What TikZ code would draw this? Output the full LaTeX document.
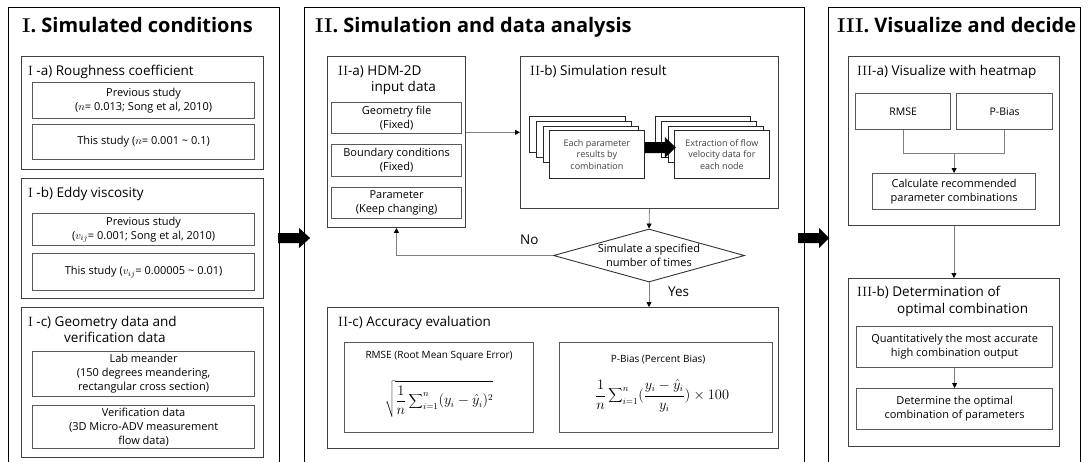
\documentclass[tikz,border=0pt]{standalone}
\usepackage{fontspec}
\setsansfont{Open Sans}
\usetikzlibrary{arrows.meta,calc,shapes.geometric}
\newcommand\rn[1]{{\rmfamily#1}}
\newcommand\fsz[2]{\fontsize{#1}{#2}\selectfont}

\tikzset{
  panel/.style={draw=black, line width=1.1pt, anchor=north west, inner sep=0pt},
  group/.style={draw=black!75, line width=0.9pt, anchor=north west, inner sep=0pt},
  item/.style={draw=black!65, line width=1.2pt, anchor=north west, inner sep=0pt,
    align=center, font=\sffamily\fsz{11}{14}},
  ptitle/.style={anchor=base west, inner sep=0pt, font=\sffamily\bfseries\fsz{20}{24}},
  lbl/.style={anchor=base west, inner sep=0pt, font=\sffamily\fsz{13.5}{16}},
  sheet/.style={draw=black!85, line width=0.8pt, fill=white, anchor=north west,
    inner sep=0pt, align=center, font=\sffamily\fsz{9}{11.5}, text=black!75},
  conn/.style={draw=black!50, line width=0.8pt,
    -{Triangle[length=5pt,width=5pt,color=black]}},
  link/.style={draw=black!50, line width=0.8pt},
  blockarrow/.style={fill=black, draw=none},
  decision/.style={diamond, draw=black!80, line width=0.9pt, inner sep=0pt,
    minimum width=191pt, minimum height=53pt},
  dectext/.style={inner sep=0pt, align=center, font=\sffamily\fsz{11}{14}},
  formula/.style={inner sep=0pt, font=\fsz{13.5}{16}},
  boxhead/.style={anchor=base, inner sep=0pt, font=\sffamily\fsz{10}{12}},
}

\begin{document}
\begin{tikzpicture}[x=1pt,y=-1pt]
\useasboundingbox (0,0) rectangle (1089,461);
\fill[white] (0,0) rectangle (1089,461);
\clip (0,0) rectangle (1089,461);

% ---------------- Panel I ----------------
\node[panel, minimum width=271pt, minimum height=480pt] (pI) at (8,7) {};
\node[ptitle] (hI) at (22,32) {\rn{I}. Simulated conditions};

\node[group, minimum width=242pt, minimum height=113pt] (gIa) at (21,56) {};
\node[lbl] (tIa) at (28,75) {\rn{I} -a) Roughness coefficient};
\node[item, minimum width=222pt, minimum height=36pt] (prevN) at (32,82)
  {Previous study\\($n$= 0.013; Song et al, 2010)};
\node[item, minimum width=222pt, minimum height=35pt] (thisN) at (32,124)
  {This study ($n$= 0.001 \textasciitilde{} 0.1)};

\node[group, minimum width=242pt, minimum height=120pt] (gIb) at (21,178) {};
\node[lbl] (tIb) at (28,197) {\rn{I} -b) Eddy viscosity};
\node[item, minimum width=222pt, minimum height=32pt] (prevV) at (32,213)
  {Previous study\\($v_{ij}$= 0.001; Song et al, 2010)};
\node[item, minimum width=222pt, minimum height=37pt] (thisV) at (32,253)
  {This study ($v_{ij}$= 0.00005 \textasciitilde{} 0.01)};

\node[group, minimum width=242pt, minimum height=150pt] (gIc) at (21,307) {};
\node[lbl] (tIc) at (28,326) {\rn{I} -c) Geometry data and};
\node[lbl] (tIc2) at (64,342) {verification data};
\node[item, minimum width=222pt, minimum height=45pt] (lab) at (32,351)
  {Lab meander\\(150 degrees meandering,\\rectangular cross section)};
\node[item, minimum width=222pt, minimum height=43pt] (verif) at (32,405)
  {Verification data\\(3D Micro-ADV measurement\\flow data)};

% ---------------- Panel II ----------------
\node[panel, minimum width=500pt, minimum height=480pt] (pII) at (304,7) {};
\node[ptitle] (hII) at (315,32) {\rn{II}. Simulation and data analysis};

\node[group, minimum width=138pt, minimum height=171pt] (gIIa) at (327,56) {};
\node[lbl] (tIIa) at (338,75) {\rn{II}-a) HDM-2D};
\node[lbl] (tIIa2) at (371,91) {input data};
\node[item, minimum width=130pt, minimum height=31pt] (geom) at (331,102)
  {Geometry file\\(Fixed)};
\node[item, minimum width=130pt, minimum height=32pt] (bound) at (331,144)
  {Boundary conditions\\(Fixed)};
\node[item, minimum width=130pt, minimum height=31pt] (param) at (331,187)
  {Parameter\\(Keep changing)};

\node[group, minimum width=258pt, minimum height=152pt] (gIIb) at (520,56) {};
\node[lbl] (tIIb) at (530,75) {\rn{II}-b) Simulation result};

% stacked result sheets
\node[sheet, minimum width=96pt, minimum height=36pt] (r0) at (529,116) {};
\node[sheet, minimum width=95pt, minimum height=36pt] (r1) at (536,121) {};
\node[sheet, minimum width=95pt, minimum height=36pt] (r2) at (543,126) {};
\node[sheet, minimum width=95pt, minimum height=48pt] (res) at (549,130)
  {Each parameter\\results by\\combination};

\node[sheet, minimum width=95pt, minimum height=36pt] (e0) at (655,116) {};
\node[sheet, minimum width=95pt, minimum height=36pt] (e1) at (661,121) {};
\node[sheet, minimum width=95pt, minimum height=36pt] (e2) at (668,126) {};
\node[sheet, minimum width=95pt, minimum height=48pt] (ext) at (674,130)
  {Extraction of flow\\velocity data for\\each node};

\fill[blockarrow] ($(res.north east)+(0,12)$) -- ++(20,0) -- ++(0,-5) -- ++(11,10.5)
  -- ++(-11,10.5) -- ++(0,-5) -- ++(-20,0) -- cycle;

\node[decision] (dec) at (649,255.5) {};
\node[dectext] (decT) at (dec.center) {Simulate a specified\\number of times};

\node[group, minimum width=451pt, minimum height=141pt] (gIIc) at (327,307) {};
\node[lbl] (tIIc) at (338,326) {\rn{II}-c) Accuracy evaluation};
\node[item, minimum width=189pt, minimum height=90pt] (rmse) at (344,342) {};
\node[boxhead] (rmseT) at ($(rmse.north)+(0,16)$) {RMSE (Root Mean Square Error)};
\node[formula] (rmseF) at ($(rmse.north)+(0,57)$)
  {$\displaystyle\sqrt{\frac{1}{n}\sum\nolimits_{i=1}^{n}(y_i-\hat{y}_i)^2}$};
\node[item, minimum width=213pt, minimum height=90pt] (pbias) at (559,342) {};
\node[boxhead] (pbiasT) at ($(pbias.north)+(-8,20)$) {P-Bias (Percent Bias)};
\node[formula] (pbiasF) at ($(pbias.north)+(-4,54)$)
  {$\displaystyle\frac{1}{n}\sum\nolimits_{i=1}^{n}(\frac{y_i-\hat{y}_i}{y_i})\times 100$};

% flow inside panel II
\coordinate (feed) at ($(gIIa.north east)!0.444!(gIIa.south east)$);
\draw[conn] (feed) -- (feed -| gIIb.west);
\draw[conn] (gIIb.south) -- (dec.north);
\draw[conn] (dec.west) -| (gIIa.south);
\draw[conn] (dec.south) -- (dec.south |- gIIc.north);
\node[lbl] (no) at (520,244) {No};
\node[lbl] (yes) at (668,296) {Yes};

% ---------------- Panel III ----------------
\node[panel, minimum width=252pt, minimum height=480pt] (pIII) at (828,7) {};
\node[ptitle] (hIII) at (837,32) {\rn{III}. Visualize and decide};

\node[group, minimum width=211pt, minimum height=169pt] (gIIIa) at (848,56) {};
\node[lbl] (tIIIa) at (857,75) {\rn{III}-a) Visualize with heatmap};
\node[item, minimum width=95pt, minimum height=36pt, font=\sffamily\fsz{10.5}{13}] (rmse3) at (855,93) {RMSE};
\node[item, minimum width=96pt, minimum height=36pt, font=\sffamily\fsz{10.5}{13}] (pb3) at (956,93) {P-Bias};
\node[item, minimum width=163pt, minimum height=36pt] (calc) at (872,173)
  {Calculate recommended\\parameter combinations};
\coordinate (join) at ($(rmse3.south)+(0,23)$);
\draw[link] (rmse3.south) -- (join) -| (pb3.south);
\draw[conn] (join -| calc.north) -- (calc.north);

\node[group, minimum width=211pt, minimum height=168pt] (gIIIb) at (848,278) {};
\node[lbl] (tIIIb) at (857,296) {\rn{III}-b) Determination of};
\node[lbl] (tIIIb2) at (897,313) {optimal combination};
\node[item, minimum width=196pt, minimum height=41pt] (quant) at (856,326)
  {Quantitatively the most accurate\\high combination output};
\node[item, minimum width=196pt, minimum height=41pt] (det) at (856,388)
  {Determine the optimal\\combination of parameters};
\draw[conn] (gIIIa.south) -- (gIIIb.north);
\draw[conn] (quant.south) -- (det.north);

% ---------------- arrows between panels ----------------
\fill[blockarrow] ($(pI.north east)+(-2,226)$) -- ++(21,0) -- ++(0,-5) -- ++(11,10)
  -- ++(-11,10) -- ++(0,-5) -- ++(-21,0) -- cycle;
\fill[blockarrow] ($(pII.north east)+(-7,226)$) -- ++(21,0) -- ++(0,-5) -- ++(10,10)
  -- ++(-10,10) -- ++(0,-5) -- ++(-21,0) -- cycle;
\end{tikzpicture}
\end{document}
